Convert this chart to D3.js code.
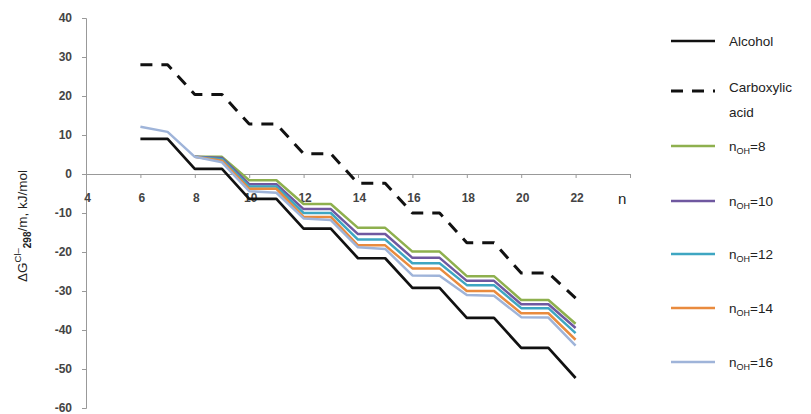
<!DOCTYPE html>
<html lang="en">
<head>
<meta charset="UTF-8">
<title>Delta G chart</title>
<script src="https://d3js.org/d3.v7.min.js"></script>
<style>
    body { margin: 0; background: #fff; font-family: "Liberation Sans", Arial, sans-serif; }
    svg { display: block; }
    .tick text { font-size: 12px; font-weight: bold; fill: #444; }
    .legend text { font-size: 13.5px; fill: #222; }
</style>
</head>
<body>
<svg id="chart" width="811" height="414"></svg>
<script>
    // carbon number n
    const nFull = [6, 7, 8, 9, 10, 11, 12, 13, 14, 15, 16, 17, 18, 19, 20, 21, 22];
    const nFrom8 = [8, 9, 10, 11, 12, 13, 14, 15, 16, 17, 18, 19, 20, 21, 22];

    const alcohol = [9.0, 9.0, 1.3, 1.3, -6.4, -6.4, -14.0, -14.0, -21.6, -21.6, -29.2, -29.2, -36.9, -36.9, -44.6, -44.6, -52.3];
    const acid = [28.0, 28.0, 20.4, 20.4, 12.8, 12.8, 5.2, 5.2, -2.4, -2.4, -10.0, -10.0, -17.6, -17.6, -25.4, -25.4, -31.8];
    const nOH8 = [4.4, 4.4, -1.6, -1.6, -7.7, -7.7, -13.8, -13.8, -19.9, -19.9, -26.2, -26.2, -32.3, -32.3, -38.4];
    const nOH10 = [4.4, 4.1, -2.6, -2.6, -9.0, -9.0, -15.4, -15.4, -21.5, -21.5, -27.4, -27.4, -33.4, -33.4, -39.5];
    const nOH12 = [4.4, 3.8, -3.2, -3.2, -10.0, -10.0, -16.8, -16.8, -22.9, -22.9, -28.5, -28.5, -34.4, -34.4, -40.8];
    const nOH14 = [4.4, 3.4, -3.8, -3.8, -11.0, -11.0, -18.3, -18.3, -24.2, -24.2, -30.0, -30.0, -35.7, -35.7, -42.5];
    const nOH16 = [12.1, 10.8, 4.4, 3.0, -4.4, -4.8, -11.4, -11.8, -18.8, -19.2, -26.0, -26.1, -31.0, -31.2, -36.7, -36.8, -44.0];

    const xTicks = [4, 6, 8, 10, 12, 14, 16, 18, 20, 22, 24];
    const xTickLabels = ["4", "6", "8", "10", "12", "14", "16", "18", "20", "22", ""];
    const yTicks = [40, 30, 20, 10, 0, -10, -20, -30, -40, -50, -60];

    const series = [
        { name: "Alcohol", x: nFull, y: alcohol, color: "#111", width: 2.7, dash: null },
        { name: "Carboxylic acid", x: nFull, y: acid, color: "#111", width: 3, dash: "12,9" },
        { name: "8", x: nFrom8, y: nOH8, color: "#8eb04e", width: 2.5, dash: null },
        { name: "10", x: nFrom8, y: nOH10, color: "#6f58a0", width: 2.5, dash: null },
        { name: "12", x: nFrom8, y: nOH12, color: "#3ea6c2", width: 2.5, dash: null },
        { name: "14", x: nFrom8, y: nOH14, color: "#e98b3e", width: 2.5, dash: null },
        { name: "16", x: nFull, y: nOH16, color: "#9fb4d9", width: 2.5, dash: null }
    ];

    const svg = d3.select("#chart");
    const x = d3.scaleLinear().domain([4, 24]).range([86, 630]);
    const y = d3.scaleLinear().domain([-60, 40]).range([408, 18]);

    // y axis (plain hyphen for negatives, as in the original)
    const yAxis = svg.append("g")
        .attr("transform", `translate(${x(4)},0)`)
        .call(d3.axisLeft(y).tickValues(yTicks).tickFormat(d => String(d)).tickSize(4).tickPadding(10));
    yAxis.select(".domain").attr("stroke", "#999");
    yAxis.selectAll(".tick line").attr("stroke", "#999");

    // x axis at y = 0
    const xAxis = svg.append("g")
        .attr("transform", `translate(0,${y(0)})`)
        .call(d3.axisBottom(x).tickValues(xTicks).tickFormat((d, i) => xTickLabels[i]).tickSize(4).tickPadding(15));
    xAxis.select(".domain").attr("stroke", "#999");
    xAxis.selectAll(".tick line").attr("stroke", "#999");
    xAxis.selectAll(".tick text").attr("dx", 1);

    svg.append("text")
        .attr("x", 618).attr("y", 204)
        .attr("font-size", 15).attr("fill", "#222")
        .text("n");

    // y axis title
    const title = svg.append("text")
        .attr("transform", "translate(27,226) rotate(-90)")
        .attr("text-anchor", "middle")
        .attr("font-size", 13.5).attr("fill", "#222");
    title.append("tspan").text("ΔG");
    title.append("tspan").attr("font-size", 9.5).attr("dy", -6).text("Cl–");
    title.append("tspan").attr("font-size", 10).attr("font-weight", "bold").attr("dy", 10).text("298");
    title.append("tspan").attr("dy", -4).text("/m, kJ/mol");

    // lines
    const line = d3.line()
        .x(d => x(d[0]))
        .y(d => y(d[1]));

    series.forEach(s => {
        svg.append("path")
            .datum(s.x.map((v, i) => [v, s.y[i]]))
            .attr("fill", "none")
            .attr("stroke", s.color)
            .attr("stroke-width", s.width)
            .attr("stroke-dasharray", s.dash)
            .attr("stroke-linejoin", "round")
            .attr("d", line);
    });

    // legend
    const legendY = [41, 91, 146, 201, 254, 308, 362];
    const legend = svg.append("g").attr("class", "legend");
    series.forEach((s, i) => {
        const ly = legendY[i];
        legend.append("line")
            .attr("x1", 671).attr("x2", 715)
            .attr("y1", ly).attr("y2", ly)
            .attr("stroke", s.color)
            .attr("stroke-width", s.width)
            .attr("stroke-dasharray", s.dash ? "12,9" : null);
        const t = legend.append("text").attr("x", 729).attr("y", ly + 5);
        if (i === 0) {
            t.text(s.name);
        } else if (i === 1) {
            t.attr("y", ly + 1).text("Carboxylic");
            legend.append("text").attr("x", 729).attr("y", ly + 26).text("acid");
        } else {
            t.append("tspan").text("n");
            t.append("tspan").attr("font-size", 9).attr("dy", 3).text("OH");
            t.append("tspan").attr("dy", -3).text("=" + s.name);
        }
    });
</script>
</body>
</html>
